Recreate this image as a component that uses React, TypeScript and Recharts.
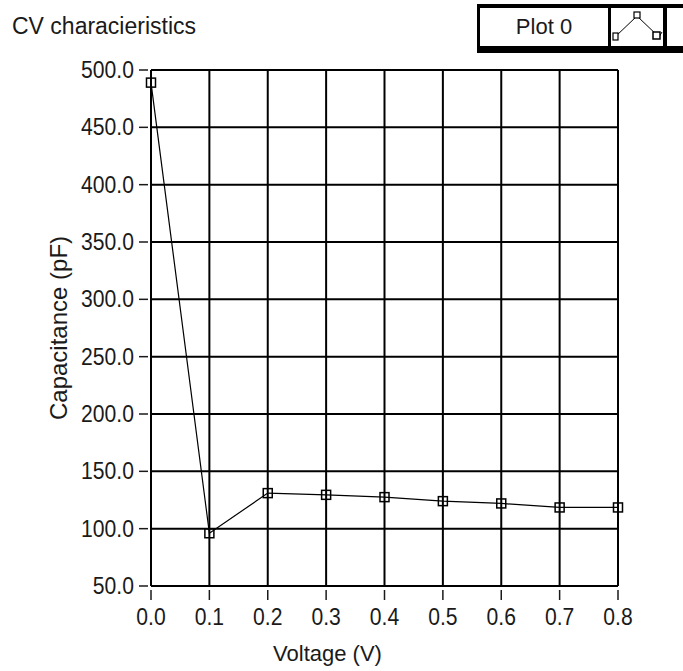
import { LineChart, Line, XAxis, YAxis, CartesianGrid } from 'recharts';

const voltages = [0.0, 0.1, 0.2, 0.3, 0.4, 0.5, 0.6, 0.7, 0.8];
const capacitance = [489, 96, 131, 129.5, 127.5, 124, 122, 118.5, 118.5];
const xTicks = [0, 0.1, 0.2, 0.3, 0.4, 0.5, 0.6, 0.7, 0.8];
const yTicks = [50, 100, 150, 200, 250, 300, 350, 400, 450, 500];

const data = voltages.map((v, i) => ({ v, c: capacitance[i] }));

const FONT = '"Liberation Sans", Arial, sans-serif';
const INK = '#1a1a1a';
const SQUEEZE = 0.92;

function YTick({ x, y, payload }: any) {
  const tx = x - 17;
  return (
    <g>
      <line x1={x - 12} x2={x - 3} y1={y} y2={y} stroke={INK} strokeWidth={1.5} />
      <text x={0} y={0} dy="0.35em" textAnchor="end" fontFamily={FONT} fontSize={23} fill={INK}
        transform={`translate(${tx} ${y}) scale(${SQUEEZE} 1)`}>
        {Number(payload.value).toFixed(1)}
      </text>
    </g>
  );
}

function XTick({ x, y, payload }: any) {
  return (
    <g>
      <line x1={x} x2={x} y1={y + 4} y2={y + 14} stroke={INK} strokeWidth={1.5} />
      <text x={0} y={0} dy="0.35em" textAnchor="middle" fontFamily={FONT} fontSize={23} fill={INK}
        transform={`translate(${x} ${y + 31}) scale(${SQUEEZE} 1)`}>
        {Number(payload.value).toFixed(1)}
      </text>
    </g>
  );
}

function YLabel({ viewBox }: any) {
  const cx = viewBox.x + 59;
  const cy = viewBox.y + viewBox.height / 2;
  return (
    <text x={cx} y={cy} dy="0.35em" textAnchor="middle" transform={`rotate(-90 ${cx} ${cy})`}
      fontFamily={FONT} fontSize={24} fill={INK}>
      Capacitance (pF)
    </text>
  );
}

function XLabel({ viewBox }: any) {
  const cx = viewBox.x + viewBox.width / 2 - 57;
  return (
    <text x={cx} y={653} dy="0.35em" textAnchor="middle" fontFamily={FONT} fontSize={22} fill={INK}>
      Voltage (V)
    </text>
  );
}

function Marker({ cx, cy }: any) {
  return <rect x={cx - 4.5} y={cy - 4.5} width={9} height={9} fill="none" stroke="#000" strokeWidth={1.5} />;
}

function LegendIcon() {
  return (
    <svg width={52} height={38}>
      <polyline points="4,29 26,8 48,29 51,24" fill="none" stroke="#000" strokeWidth={1} />
      <rect x={2} y={25} width={5} height={7} fill="#fff" stroke="#000" strokeWidth={1.2} />
      <rect x={23} y={4} width={6} height={6} fill="#fff" stroke="#000" strokeWidth={1.2} />
      <rect x={42} y={24} width={7} height={7} fill="#fff" stroke="#000" strokeWidth={1.5} />
    </svg>
  );
}

export default function App() {
  return (
    <div style={{ position: 'absolute', left: 0, top: 0, width: 683, height: 671, background: '#fff', overflow: 'hidden' }}>
      <div style={{ position: 'absolute', left: 12, top: 12, fontFamily: FONT, fontSize: 23, color: INK, lineHeight: '28px' }}>
        CV characieristics
      </div>
      <div style={{ position: 'absolute', left: 477, top: 4, width: 220, height: 49, background: '#000' }}>
        <div style={{ position: 'absolute', left: 3, top: 4, width: 128, height: 38, background: '#fff', fontFamily: FONT, fontSize: 22, color: INK, textAlign: 'center', lineHeight: '38px' }}>
          Plot 0
        </div>
        <div style={{ position: 'absolute', left: 134, top: 4, width: 52, height: 38, background: '#fff' }}>
          <LegendIcon />
        </div>
        <div style={{ position: 'absolute', left: 190, top: 4, width: 40, height: 38, background: '#fff' }} />
      </div>
      <LineChart width={683} height={671} data={data} margin={{ top: 70, right: 65, bottom: 45, left: 0 }}>
        <CartesianGrid stroke="#000" strokeWidth={2} horizontalValues={yTicks} verticalValues={xTicks} />
        <XAxis dataKey="v" type="number" domain={[0, 0.8]} ticks={xTicks} height={40}
          axisLine={false} tickLine={false} tickSize={0} tickMargin={0} tick={<XTick />} label={<XLabel />} />
        <YAxis dataKey="c" type="number" domain={[50, 500]} ticks={yTicks} width={151}
          axisLine={false} tickLine={false} tickSize={0} tickMargin={0} tick={<YTick />} label={<YLabel />} />
        <Line dataKey="c" type="linear" stroke="#000" strokeWidth={1.2} dot={<Marker />} isAnimationActive={false} />
      </LineChart>
    </div>
  );
}
